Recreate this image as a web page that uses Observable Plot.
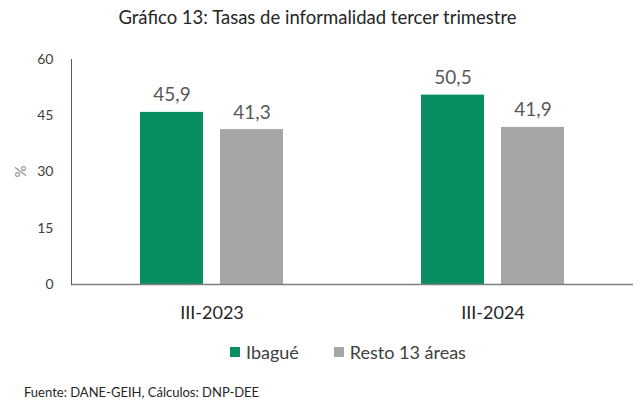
<!DOCTYPE html>
<html>
<head>
<meta charset="utf-8">
<script src="https://cdn.jsdelivr.net/npm/d3@7"></script>
<script src="https://cdn.jsdelivr.net/npm/@observablehq/plot@0.6"></script>
<style>
  body { margin: 0; background: #fff; font-family: Lato, "Open Sans", sans-serif; }
  #wrap { position: relative; width: 641px; height: 402px; overflow: hidden; }
  #title { position: absolute; top: 6px; left: -3px; width: 641px; text-align: center; font-size: 18.5px; color: #262626; }
  #chart { position: absolute; top: 40px; left: 0; }
  #legend { position: absolute; top: 341px; left: 230px; display: flex; gap: 35px; font-size: 18px; color: #404040; white-space: nowrap; }
  #legend .item { display: flex; align-items: center; gap: 6px; }
  #legend .sw { width: 10px; height: 10px; display: inline-block; }
  #caption { position: absolute; top: 384px; left: 24px; font-size: 13px; color: #262626; }
</style>
</head>
<body>
<div id="wrap">
  <div id="title"></div>
  <div id="chart"></div>
  <div id="legend"></div>
  <div id="caption"></div>
</div>
<script>
const titleText = "Gráfico 13: Tasas de informalidad tercer trimestre";
const captionText = "Fuente: DANE-GEIH, Cálculos: DNP-DEE";
const periods = ["III-2023", "III-2024"];
const series = ["Ibagué", "Resto 13 áreas"];
const colors = ["#078F63", "#A6A6A6"];
const ibague = [45.9, 50.5];
const resto = [41.3, 41.9];
const yTicks = [0, 15, 30, 45, 60];

const data = [];
periods.forEach((p, i) => {
  data.push({period: p, series: series[0], value: ibague[i]});
  data.push({period: p, series: series[1], value: resto[i]});
});

const fmt = v => v.toFixed(1).replace(".", ",");

document.getElementById("title").textContent = titleText;
document.getElementById("caption").textContent = captionText;

const plot = Plot.plot({
  width: 641,
  height: 300,
  marginTop: 19,
  marginBottom: 56,
  marginLeft: 70,
  marginRight: 8,
  style: {fontFamily: "Lato, 'Open Sans', sans-serif", background: "transparent"},
  fx: {domain: periods, padding: 0, label: null},
  x: {domain: series, paddingInner: 0.2125, paddingOuter: 0.8625, axis: null},
  y: {domain: [0, 60], ticks: yTicks, label: null},
  color: {domain: series, range: colors},
  marks: [
    Plot.barY(data, {fx: "period", x: "series", y: "value", fill: "series"}),
    Plot.text(data, {fx: "period", x: "series", y: "value", text: d => fmt(d.value), lineAnchor: "bottom", dy: -11, fontSize: 19, fill: "#595959"}),
    Plot.ruleY([0], {stroke: "#7f7f7f", strokeWidth: 1.5}),
    Plot.frame({anchor: "left", facetAnchor: "left", stroke: "#595959"}),
    Plot.axisY({ticks: yTicks, tickSize: 0, tickPadding: 18, fontSize: 14, fill: "#404040", label: null, facetAnchor: "left"}),
    Plot.axisFx({anchor: "bottom", tickSize: 0, tickPadding: 22, fontSize: 18, fill: "#262626", label: null})
  ]
});
document.getElementById("chart").appendChild(plot);

// y label "%"
const svg = d3.select(plot);
const ys = plot.scale("y");
svg.append("text")
  .attr("transform", `translate(22,${(ys.range[0] + ys.range[1]) / 2}) rotate(-90)`)
  .attr("text-anchor", "middle")
  .attr("dominant-baseline", "middle")
  .attr("font-size", 15)
  .attr("fill", "#8c8c8c")
  .text("%");

const legend = d3.select("#legend");
series.forEach((s, i) => {
  const it = legend.append("div").attr("class", "item");
  it.append("span").attr("class", "sw").style("background", colors[i]);
  it.append("span").text(s);
});
</script>
</body>
</html>
